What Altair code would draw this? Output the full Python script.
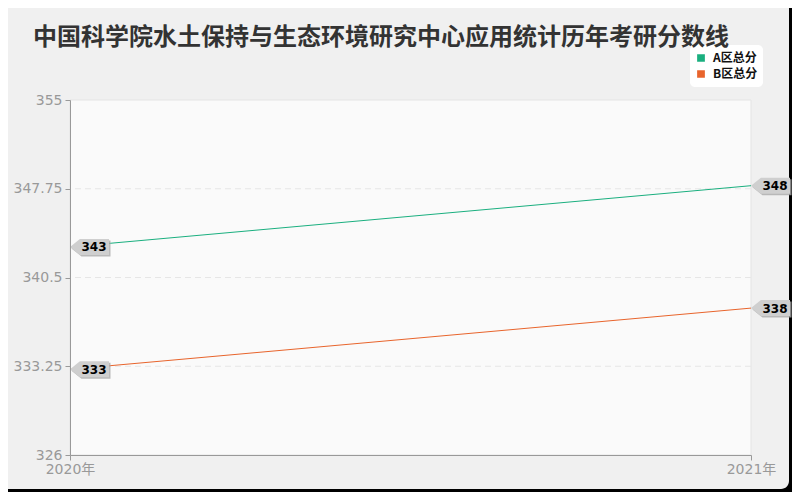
import altair as alt
import pandas as pd

years = [2020, 2021]
a_scores = [343, 348]
b_scores = [333, 338]
series_names = ["A区总分", "B区总分"]
series_colors = ["#1aaf7f", "#e8642c"]
y_ticks = [326, 333.25, 340.5, 347.75, 355]
grid_ticks = [333.25, 340.5, 347.75]
title_text = "中国科学院水土保持与生态环境研究中心应用统计历年考研分数线"

rows = []
for name, vals in zip(series_names, [a_scores, b_scores]):
    for yr, v in zip(years, vals):
        rows.append({"year": yr, "score": v, "series": name})
df = pd.DataFrame(rows)
grid_df = pd.DataFrame({"score": grid_ticks})

W, H = 681, 355
PL, PT, PR, PB = 62, 92, 41, 37
FONT = "DejaVu Sans, Noto Sans CJK SC"

xscale = alt.Scale(domain=[2020, 2021])
yscale = alt.Scale(domain=[326, 355], nice=False, zero=False)

x_enc = alt.X("year:Q", scale=xscale, axis=alt.Axis(
    values=years, labelExpr="datum.value + '年'", title=None, grid=False,
    labelColor="#999999", labelFontSize=14, labelFont=FONT, labelPadding=2,
    domainColor="#999999", tickColor="#999999", tickSize=5, labelFlush=False,
    labelOverlap=False, zindex=1))
y_axis = alt.Axis(
    values=y_ticks, format=".2~f", title=None, grid=False, labelColor="#999999",
    labelFontSize=14, labelFont=FONT, labelPadding=3, domainColor="#999999",
    tickColor="#999999", tickSize=5, zindex=1, labelFlush=False)
y_enc = alt.Y("score:Q", scale=yscale, axis=y_axis)

panel = alt.Chart(pd.DataFrame({"p": [0]})).mark_rect(
    color="#f0f0f0", cornerRadius=8, clip=False
).encode(x=alt.value(-PL - 10), x2=alt.value(W + PR - 3),
         y=alt.value(-PT - 10), y2=alt.value(H + PB - 3))

plotbg = alt.Chart(pd.DataFrame({"p": [0]})).mark_rect(
    color="#fafafa", stroke="#e4e4e4", strokeWidth=1
).encode(x=alt.value(0), x2=alt.value(W), y=alt.value(0), y2=alt.value(H))

grid = alt.Chart(grid_df).mark_rule(
    color="#e6e6e6", strokeDash=[6, 4], strokeWidth=1
).encode(y=y_enc)

lines = alt.Chart(df).mark_line(strokeWidth=1).encode(
    x=x_enc, y=y_enc,
    color=alt.Color("series:N", scale=alt.Scale(domain=series_names, range=series_colors),
                    legend=alt.Legend(
                        title=None, orient="none", legendX=620, legendY=-55,
                        fillColor="white", cornerRadius=5, padding=5,
                        symbolType="square", symbolSize=14, symbolStrokeWidth=4,
                        labelFontSize=12, labelFontWeight="bold", labelColor="#111111",
                        labelFont="Noto Sans CJK SC", rowPadding=0, labelOffset=6,
                        labelLimit=100, clipHeight=16)),
)

box_path = "M-1,0 L-0.49,-0.41 L1,-0.41 L1,0.41 L-0.49,0.41 Z"
shadow = alt.Chart(df).mark_point(
    shape=box_path, size=1521, filled=True, color="#aaaaaa", opacity=0.8,
    xOffset=21, yOffset=1.5, strokeWidth=0
).encode(x=alt.X("year:Q", scale=xscale), y=alt.Y("score:Q", scale=yscale))
box = alt.Chart(df).mark_point(
    shape=box_path, size=1521, filled=True, color="#cfcfcf", opacity=1,
    xOffset=19.5, strokeWidth=0
).encode(x=alt.X("year:Q", scale=xscale), y=alt.Y("score:Q", scale=yscale))
labels = alt.Chart(df).mark_text(
    font=FONT, fontSize=12, fontWeight="bold", color="#000000",
    xOffset=24, yOffset=0.5, baseline="middle", align="center"
).encode(x=alt.X("year:Q", scale=xscale), y=alt.Y("score:Q", scale=yscale),
         text=alt.Text("score:Q", format="d"))

chart = alt.layer(panel, plotbg, grid, lines, shadow, box, labels).properties(
    width=W, height=H,
    title=alt.TitleParams(title_text, anchor="start", frame="group", dx=-37,
                          offset=-52, fontSize=24, fontWeight="bold",
                          font="Noto Sans CJK SC", color="#333333"),
    autosize=alt.AutoSizeParams(type="none"),
    padding={"left": PL, "top": PT, "right": PR, "bottom": PB},
    background="black",
).configure_view(stroke=None)

chart.save("out.html", embed_options={"renderer": "svg", "actions": False})
